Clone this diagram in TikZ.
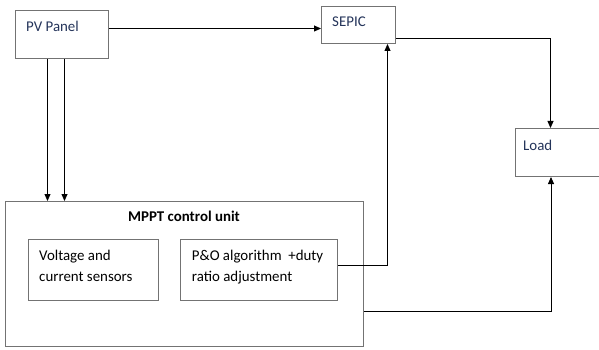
\documentclass[tikz,border=0pt]{standalone}
\usepackage{fontspec}
\setmainfont{Carlito}
\usepackage{tikz}
\usetikzlibrary{arrows.meta, positioning, calc}

\definecolor{labelblue}{RGB}{36,52,90}

\begin{document}
\begin{tikzpicture}[
    x=1pt, y=-1pt,
    font=\fontsize{14.9}{21}\selectfont,
    box/.style={
        rectangle, draw=black!55, line width=1pt, fill=white,
        anchor=north west, inner sep=0pt
    },
    boxtext/.style={anchor=base west, inner sep=0pt, align=left},
    arrow/.style={-{Triangle[length=7pt,width=6pt]}, line width=0.8pt, draw=black}
]
\useasboundingbox (0,0) rectangle (599,350);

% Top row
\node[box, minimum width=93pt, minimum height=48pt] (pv) at (15,10) {};
\node[boxtext, text=labelblue] (pv_txt) at (26,31.7) {PV Panel};

\node[box, minimum width=74pt, minimum height=37pt] (sepic) at (321,6) {};
\node[boxtext, text=labelblue] (sepic_txt) at (332,26.7) {SEPIC};

\node[box, minimum width=90pt, minimum height=48pt] (load) at (515,128) {};
\node[boxtext, text=labelblue] (load_txt) at (523,150) {Load};

% MPPT control unit
\node[box, minimum width=358pt, minimum height=145pt] (mppt) at (5,201) {};
\node[anchor=base, inner sep=0pt, font=\fontsize{14.9}{21}\selectfont\bfseries] (mppt_txt) at (184,221.7) {MPPT control unit};

\node[box, minimum width=130pt, minimum height=61pt] (sens) at (28,239) {};
\node[boxtext] (sens_txt) at (39,281) {Voltage and\\current sensors};

\node[box, minimum width=157pt, minimum height=61pt] (po) at (180,239) {};
\node[boxtext] (po_txt) at (191.7,281) {P\&O algorithm \ +duty\\ratio adjustment};

% Connections
\draw[arrow] ([yshift=6pt]pv.east) -- ([yshift=6pt]pv.east -| sepic.west);
\draw[arrow] ([xshift=-14.5pt]pv.south) -- ([xshift=-14.5pt]pv.south |- mppt.north);
\draw[arrow] ([xshift=2.5pt]pv.south) -- ([xshift=2.5pt]pv.south |- mppt.north);
\draw[arrow] ([yshift=-13pt]sepic.east) -| ([xshift=-10pt]load.north);
\draw[arrow] ([yshift=4.5pt]po.east) -| ([xshift=29pt]sepic.south);
\draw[arrow] ([yshift=-37.5pt]mppt.east) -| ([xshift=-9.5pt]load.south);

\end{tikzpicture}
\end{document}
